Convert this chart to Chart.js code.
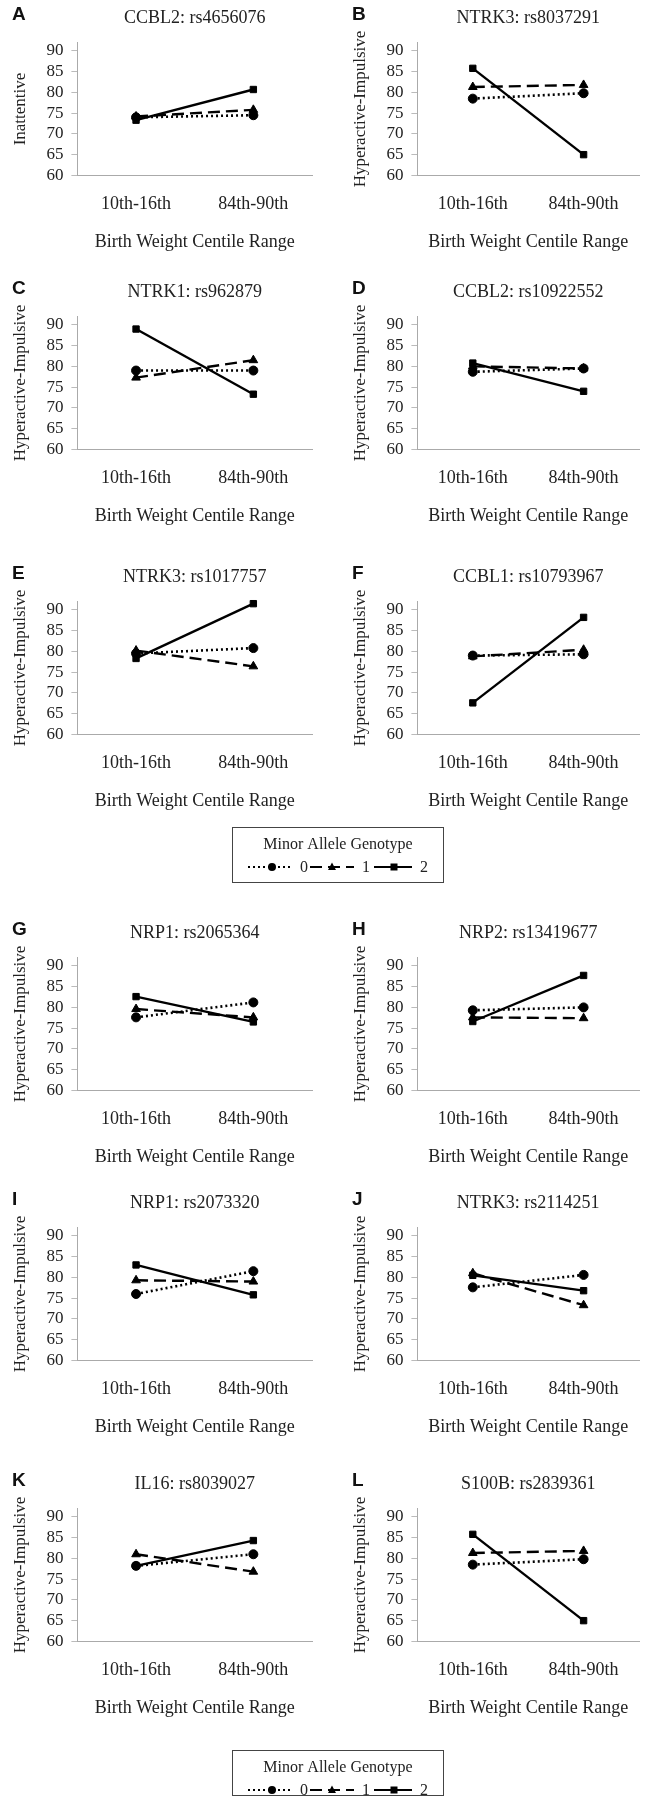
<!DOCTYPE html>
<html>
<head>
<meta charset="utf-8">
<script src="https://cdn.jsdelivr.net/npm/chart.js@4.4.1/dist/chart.umd.min.js"></script>
<style>
  body { margin: 0; background: #fff; width: 645px; height: 1796px; position: relative; overflow: hidden; }
  .painel { position: absolute; }
  .letra { position: absolute; font: bold 19px "Liberation Sans", Arial, sans-serif; color: #111; }
  .legenda { position: absolute; }
</style>
</head>
<body>
<script>
// dados
const faixas = ['10th-16th', '84th-90th']
const genotipos = ['0', '1', '2']
const yTicks = [60, 65, 70, 75, 80, 85, 90]
const letras = ['A', 'B', 'C', 'D', 'E', 'F', 'G', 'H', 'I', 'J', 'K', 'L']
const titulos = ['CCBL2: rs4656076', 'NTRK3: rs8037291', 'NTRK1: rs962879', 'CCBL2: rs10922552',
  'NTRK3: rs1017757', 'CCBL1: rs10793967', 'NRP1: rs2065364', 'NRP2: rs13419677',
  'NRP1: rs2073320', 'NTRK3: rs2114251', 'IL16: rs8039027', 'S100B: rs2839361']
const yTitulos = ['Inattentive', 'Hyperactive-Impulsive', 'Hyperactive-Impulsive', 'Hyperactive-Impulsive',
  'Hyperactive-Impulsive', 'Hyperactive-Impulsive', 'Hyperactive-Impulsive', 'Hyperactive-Impulsive',
  'Hyperactive-Impulsive', 'Hyperactive-Impulsive', 'Hyperactive-Impulsive', 'Hyperactive-Impulsive']
const xTitulo = 'Birth Weight Centile Range'
const legendaTitulo = 'Minor Allele Genotype'

// genotipo 0 (pontilhado, circulo)
const geno0 = [[74.0, 74.5], [78.5, 79.8], [79.0, 79.0], [78.7, 79.5], [79.5, 80.8], [79.0, 79.3],
  [77.6, 81.2], [79.3, 80.0], [76.0, 81.5], [77.6, 80.6], [78.2, 81.0], [78.5, 79.8]]
// genotipo 1 (tracejado, triangulo)
const geno1 = [[74.2, 75.8], [81.3, 81.8], [77.3, 81.5], [80.0, 79.5], [80.2, 76.4], [78.8, 80.4],
  [79.6, 77.6], [77.6, 77.4], [79.3, 79.0], [81.0, 73.3], [81.0, 76.8], [81.3, 81.8]]
// genotipo 2 (solido, quadrado)
const geno2 = [[73.3, 80.7], [85.8, 65.0], [89.0, 73.3], [80.8, 74.0], [78.3, 91.5], [67.6, 88.2],
  [82.6, 76.5], [76.6, 87.7], [83.0, 75.8], [80.5, 76.8], [78.2, 84.3], [85.8, 65.0]]

// layout
const linhasY = [18, 292, 577, 933, 1203, 1484]
const fonteSerif = '"Liberation Serif", "Times New Roman", serif'

const estilos = [
  { dash: [2, 3], ponto: 'circle', raio: 4.5 },
  { dash: [12, 6], ponto: 'triangle', raio: 5 },
  { dash: [], ponto: 'rect', raio: 4.5 }
]

function criarPainel(i) {
  const col = i % 2
  const row = Math.floor(i / 2)
  const left = col == 0 ? 0 : 340
  const width = col == 0 ? 322 : 305
  const top = linhasY[row] - 11
  const height = 248

  const div = document.createElement('div')
  div.className = 'painel'
  div.style.left = left + 'px'
  div.style.top = top + 'px'
  div.style.width = width + 'px'
  div.style.height = height + 'px'
  const canvas = document.createElement('canvas')
  canvas.width = width
  canvas.height = height
  div.appendChild(canvas)
  document.body.appendChild(div)

  const letra = document.createElement('div')
  letra.className = 'letra'
  letra.textContent = letras[i]
  letra.style.left = (left + 12) + 'px'
  letra.style.top = (linhasY[row] - 15) + 'px'
  document.body.appendChild(letra)

  const series = [geno0[i], geno1[i], geno2[i]]
  const datasets = []
  for (let j = 0; j < 3; j++) {
    datasets.push({
      label: genotipos[j],
      data: series[j],
      borderColor: '#000',
      backgroundColor: '#000',
      borderWidth: j == 0 ? 2.6 : 2.4,
      borderDash: estilos[j].dash,
      pointStyle: estilos[j].ponto,
      pointRadius: estilos[j].raio,
      pointBorderWidth: 1,
      tension: 0,
      clip: false
    })
  }

  new Chart(canvas, {
    type: 'line',
    data: { labels: faixas, datasets: datasets },
    options: {
      responsive: false,
      animation: false,
      layout: { padding: { left: 8, right: col == 0 ? 10 : 3, top: 0, bottom: 2 } },
      plugins: {
        legend: { display: false },
        tooltip: { enabled: false },
        title: {
          display: true,
          fullSize: false,
          text: titulos[i],
          color: '#222',
          font: { family: fonteSerif, size: 18, weight: 'normal' },
          padding: { top: 0, bottom: 14 }
        }
      },
      scales: {
        x: {
          offset: true,
          grid: { display: false, drawTicks: false },
          border: { display: true, color: '#aaa', dash: [2, 2], width: 1 },
          ticks: { color: '#222', font: { family: fonteSerif, size: 18 }, padding: 18, maxRotation: 0 },
          title: {
            display: true, text: xTitulo, color: '#222',
            font: { family: fonteSerif, size: 18, lineHeight: 1.0 }, padding: { top: 0, bottom: 2 }
          }
        },
        y: {
          min: 60,
          max: 92,
          afterBuildTicks: (axis) => { axis.ticks = yTicks.map(v => ({ value: v })) },
          grid: { display: true, drawOnChartArea: false, drawTicks: true, tickLength: 6, color: '#bbb' },
          border: { display: true, color: '#aaa', dash: [2, 2], width: 1 },
          ticks: { color: '#222', font: { family: fonteSerif, size: 17 }, padding: 8, autoSkip: false },
          title: {
            display: true, text: yTitulos[i], color: '#222',
            font: { family: fonteSerif, size: 17 }, padding: { top: 2, bottom: 8 }
          }
        }
      }
    }
  })
}

for (let i = 0; i < 12; i++) criarPainel(i)

// legenda (caixa central e caixa de baixo)
function criarLegenda(x, y, w, h) {
  const c = document.createElement('canvas')
  c.className = 'legenda'
  c.width = w
  c.height = h
  c.style.left = x + 'px'
  c.style.top = y + 'px'
  document.body.appendChild(c)
  const g = c.getContext('2d')
  g.strokeStyle = '#444'
  g.lineWidth = 1
  g.strokeRect(0.5, 0.5, w - 1, h - 1)
  g.fillStyle = '#222'
  g.font = '16px ' + fonteSerif
  g.textAlign = 'center'
  g.textBaseline = 'middle'
  g.fillText(legendaTitulo, w / 2, 18)

  const yl = 40
  const amostras = [[16, 58, 40, 68], [78, 122, 100, 130], [142, 180, 162, 188]]
  for (let j = 0; j < 3; j++) {
    const a = amostras[j]
    g.strokeStyle = '#000'
    g.lineWidth = 2.2
    g.setLineDash(estilos[j].dash)
    g.beginPath()
    g.moveTo(a[0], yl)
    g.lineTo(a[1], yl)
    g.stroke()
    g.setLineDash([])
    g.fillStyle = '#000'
    g.beginPath()
    if (j == 0) {
      g.arc(a[2], yl, 4, 0, Math.PI * 2)
    } else if (j == 1) {
      g.moveTo(a[2], yl - 4.5)
      g.lineTo(a[2] + 4, yl + 3)
      g.lineTo(a[2] - 4, yl + 3)
      g.closePath()
    } else {
      g.rect(a[2] - 3.5, yl - 3.5, 7, 7)
    }
    g.fill()
    g.fillStyle = '#222'
    g.textAlign = 'left'
    g.fillText(genotipos[j], a[3], yl + 1)
  }
}

criarLegenda(232, 827, 212, 56)
criarLegenda(232, 1750, 212, 46)
</script>
</body>
</html>
